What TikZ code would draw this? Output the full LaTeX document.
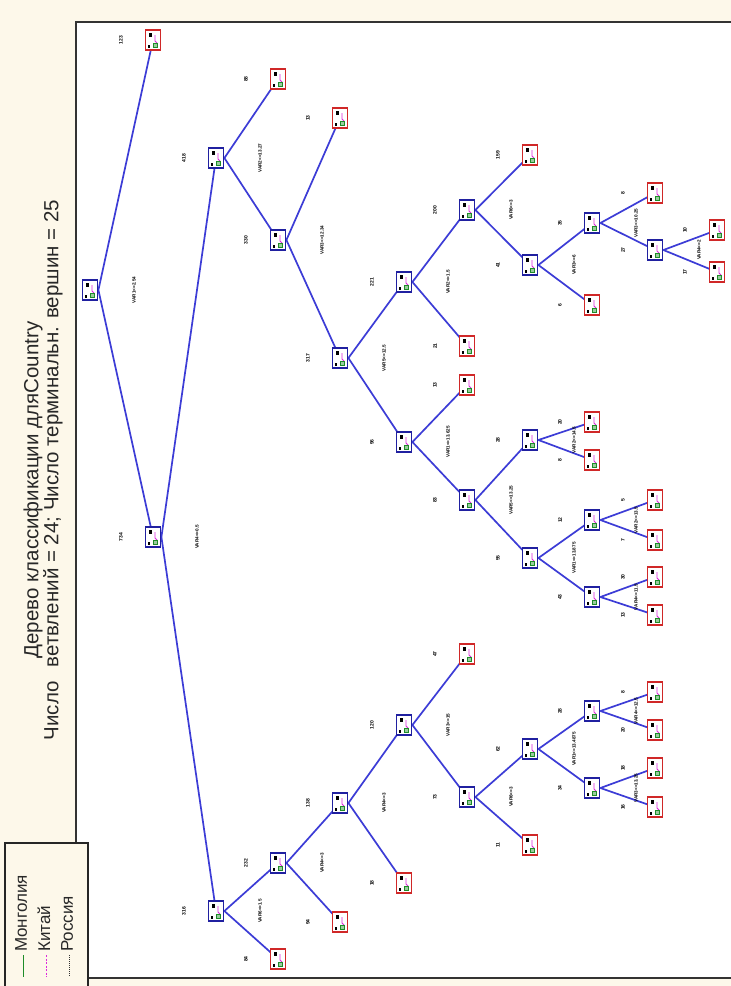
\documentclass[tikz,border=0pt]{standalone}
\usepackage{fontspec}
\setmainfont{Liberation Sans}
\definecolor{bgbeige}{RGB}{253,248,234}
\definecolor{splitblue}{RGB}{32,32,160}
\definecolor{termred}{RGB}{208,40,40}
\definecolor{edgeblue}{RGB}{60,60,214}
\definecolor{glgreen}{RGB}{30,140,40}
\definecolor{glmag}{RGB}{220,40,220}
\definecolor{titlegray}{RGB}{40,40,40}
\pgfdeclarelayer{bg}
\pgfsetlayers{bg,main}
\begin{document}
\begin{tikzpicture}[x=1pt,y=-1pt,
  splitbox/.style={draw=splitblue, line width=1.8pt, fill=white, minimum width=15pt, minimum height=20pt, inner sep=0pt},
  termbox/.style={splitbox, draw=termred},
  edgeline/.style={draw=edgeblue, line width=1.7pt},
  cntlabel/.style={rotate=90, font=\fontsize{5}{5}\selectfont\bfseries, inner sep=0pt},
  ruletext/.style={rotate=90, font=\fontsize{4.6}{5}\selectfont\bfseries, inner sep=0pt},
  titletext/.style={rotate=90, text=titlegray, font=\fontsize{20.5}{20.5}\selectfont, inner sep=0pt},
  legtext/.style={rotate=90, anchor=west, text=titlegray, font=\fontsize{17}{17}\selectfont, inner sep=0pt}]
\useasboundingbox (0,0) rectangle (731,986);
\begin{pgfonlayer}{bg}
\fill[bgbeige] (0,0) rectangle (731,986);
\draw[fill=white, draw=black!80, line width=1.2pt] (76,22) rectangle (760,978);
\end{pgfonlayer}

% titles
\node[titletext] (title1) at (33,490) {Дерево классификации дляCountry};
\node[titletext] (title2) at (53,470) {Число\hspace{14pt}ветвлений = 24; Число терминальн. вершин = 25};

% legend
\draw[fill=bgbeige, draw=black!85, line width=1.2pt] (5,843) rectangle (88,995);
\node[legtext] (lg1) at (21,952) {Монголия};
\node[legtext] (lg2) at (44,952) {Китай};
\node[legtext] (lg3) at (67,952) {Россия};
\draw[glgreen, line width=0.9pt] (23,955) -- (23,977);
\draw[glmag, line width=0.9pt, dash pattern=on 2pt off 1.5pt] (46,955) -- (46,977);
\draw[black!80, line width=0.9pt, dash pattern=on 1pt off 1pt] (69,955) -- (69,977);

% split nodes
\foreach \nm/\x/\y in {n0/90/290, n1/153/537, n2/216/158, n3/216/911, n4/278/240,
  n5/340/358, n6/404/282, n7/404/442, n8/467/210, n9/530/265, n10/592/223,
  n11/655/250, n12/467/500, n13/530/440, n14/530/558, n15/592/520, n16/592/597,
  n17/278/863, n18/340/803, n19/404/725, n20/467/797, n21/530/749, n22/592/711, n23/592/788}
  \node[splitbox] (\nm) at (\x,\y) {};

% terminal nodes
\foreach \nm/\x/\y in {t1/153/40, t2/278/79, t3/340/118, t4/467/346, t5/530/155,
  t6/592/305, t7/655/193, t8/717/230, t9/717/272, t10/467/385, t11/592/422,
  t12/592/460, t13/655/500, t14/655/540, t15/655/577, t16/655/615, t17/278/959,
  t18/340/922, t19/404/883, t20/467/654, t21/530/845, t22/655/692, t23/655/730,
  t24/655/768, t25/655/807}
  \node[termbox] (\nm) at (\x,\y) {};

% glyphs inside boxes
\foreach \i in {0,...,23} {
  \begin{scope}[shift={(n\i.center)}]
    \fill[black] (-4,-7) rectangle (-1,-3);
    \draw[glmag, line width=0.9pt] (2,-5) -- (2,1) -- (4,3);
    \draw[glgreen, line width=0.8pt, fill=glgreen!45] (0,3) rectangle (4,7);
    \fill[black] (-5,5) rectangle (-3,8);
  \end{scope}
}
\foreach \i in {1,...,25} {
  \begin{scope}[shift={(t\i.center)}]
    \fill[black] (-4,-7) rectangle (-1,-3);
    \draw[glmag, line width=0.9pt] (2,-5) -- (2,1) -- (4,3);
    \draw[glgreen, line width=0.8pt, fill=glgreen!45] (0,3) rectangle (4,7);
    \fill[black] (-5,5) rectangle (-3,8);
  \end{scope}
}

% connectors (behind the boxes)
\begin{pgfonlayer}{bg}
\foreach \a/\b in {n0/t1, n0/n1, n1/n2, n1/n3, n2/t2, n2/n4, n4/t3, n4/n5, n5/n6, n5/n7,
  n6/n8, n6/t4, n8/t5, n8/n9, n9/n10, n9/t6, n10/t7, n10/n11, n11/t8, n11/t9,
  n7/t10, n7/n12, n12/n13, n12/n14, n13/t11, n13/t12, n14/n15, n14/n16,
  n15/t13, n15/t14, n16/t15, n16/t16, n3/n17, n3/t17, n17/n18, n17/t18,
  n18/n19, n18/t19, n19/t20, n19/n20, n20/n21, n20/t21, n21/n22, n21/n23,
  n22/t22, n22/t23, n23/t24, n23/t25}
  \draw[edgeline] (\a.east) -- (\b.center);
\end{pgfonlayer}

% count labels
\foreach \b/\txt in {t1/123, n1/734, n2/418, n3/316, t2/88, n4/330, t3/13, n5/317,
  n6/221, n7/96, n8/200, t4/21, t5/159, n9/41, n10/35, t6/6, t7/8, n11/27,
  t8/10, t9/17, t10/13, n12/83, n13/28, n14/55, t11/20, t12/8, n15/12, n16/43,
  t13/5, t14/7, t15/30, t16/13, n17/232, t17/84, n18/138, t18/94, n19/120,
  t19/18, t20/47, n20/73, n21/62, t21/11, n22/28, n23/34, t22/8, t23/20,
  t24/18, t25/16}
  \node[cntlabel] (c\b) at ([xshift=-32pt]\b.center) {\txt};

% split rule labels
\foreach \a/\txt in {n0/VAR1<=2.54, n1/VAR4<=0.5, n2/VAR2<=13.27, n3/VAR6<=1.5,
  n4/VAR3<=12.34, n5/VAR5<=12.5, n6/VAR2<=1.5, n7/VAR1<=13.625, n8/VAR6<=3,
  n9/VAR3<=6, n10/VAR3<=10.25, n11/VAR4<=2, n12/VAR5<=13.25, n13/VAR2<=14.5,
  n14/VAR1<=13.875, n15/VAR2<=13.5, n16/VAR4<=11.5, n17/VAR4<=3, n18/VAR4<=3,
  n19/VAR3<=15, n20/VAR6<=3, n21/VAR1<=13.4875, n22/VAR4<=12.5, n23/VAR3<=13.25}
  \node[ruletext] (r\a) at ([xshift=44pt]\a.center) {\txt};
\end{tikzpicture}
\end{document}
